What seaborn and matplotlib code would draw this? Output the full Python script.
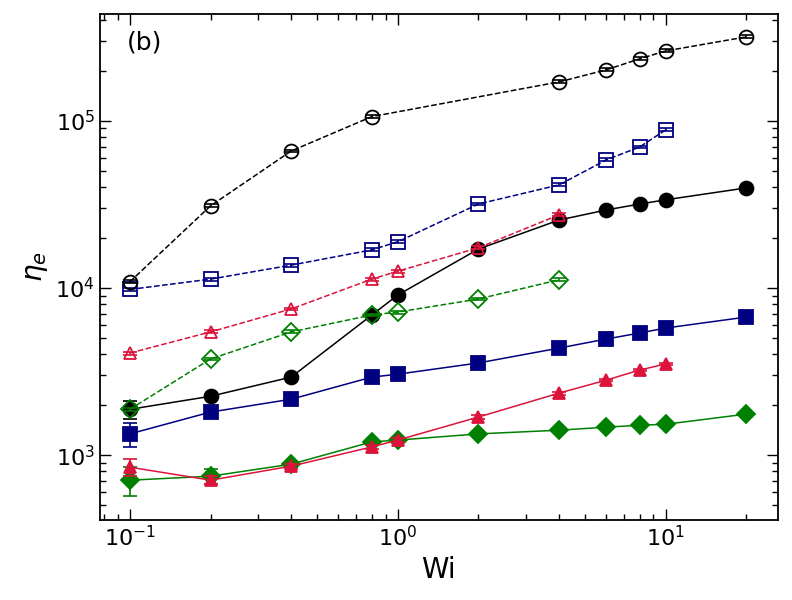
import matplotlib
matplotlib.use('Agg')
import matplotlib.pyplot as plt
import numpy as np
import pandas as pd
import seaborn as sns

sns.set_style('ticks')
plt.rcParams['font.family'] = ['DejaVu Sans']
plt.rcParams['mathtext.fontset'] = 'dejavusans'
plt.rcParams['text.color'] = 'black'
plt.rcParams['axes.labelcolor'] = 'black'
plt.rcParams['xtick.color'] = 'black'
plt.rcParams['ytick.color'] = 'black'
plt.rcParams['axes.edgecolor'] = 'black'

# datos
wi_full = [0.1, 0.2, 0.4, 0.8, 1, 2, 4, 6, 8, 10, 20]
wi_open_circ = [0.1, 0.2, 0.4, 0.8, 4, 6, 8, 10, 20]
wi_open_sq = [0.1, 0.2, 0.4, 0.8, 1, 2, 4, 6, 8, 10]
wi_short = [0.1, 0.2, 0.4, 0.8, 1, 2, 4]
wi_tri = [0.1, 0.2, 0.4, 0.8, 1, 2, 4, 6, 8, 10]

open_circ = [1.09e4, 3.1e4, 6.6e4, 1.06e5, 1.71e5, 2.02e5, 2.35e5, 2.62e5, 3.18e5]
open_sq = [9.8e3, 1.13e4, 1.37e4, 1.69e4, 1.89e4, 3.18e4, 4.14e4, 5.84e4, 6.98e4, 8.83e4]
open_tri = [4.08e3, 5.46e3, 7.49e3, 1.13e4, 1.26e4, 1.74e4, 2.74e4]
open_dia = [1.88e3, 3.76e3, 5.46e3, 6.89e3, 7.18e3, 8.59e3, 1.12e4]

fill_circ = [1.88e3, 2.25e3, 2.93e3, 6.89e3, 9.08e3, 1.71e4, 2.55e4, 2.93e4, 3.18e4, 3.37e4, 3.97e4]
fill_sq = [1.34e3, 1.81e3, 2.16e3, 2.93e3, 3.05e3, 3.56e3, 4.37e3, 4.95e3, 5.38e3, 5.76e3, 6.70e3]
fill_tri = [847, 708, 859, 1120, 1230, 1690, 2350, 2810, 3230, 3510]
fill_dia = [708, 748, 883, 1200, 1230, 1340, 1410, 1470, 1510, 1530, 1760]

# barras de error (solo las visibles son grandes)
err_fill_circ = [230, 60, 60, 150, 150, 300, 400, 400, 400, 400, 500]
err_fill_sq = [220, 50, 50, 60, 60, 70, 80, 90, 90, 100, 110]
err_fill_tri = [100, 40, 30, 30, 30, 40, 50, 50, 60, 60]
err_fill_dia = [140, 76, 30, 30, 30, 30, 30, 30, 30, 30, 30]

series = [
    # (x, y, err, marker, color, linestyle, filled)
    (wi_full, fill_dia, err_fill_dia, 'D', 'green', '-', True),
    (wi_tri, fill_tri, err_fill_tri, '^', 'crimson', '-', True),
    (wi_full, fill_sq, err_fill_sq, 's', 'navy', '-', True),
    (wi_full, fill_circ, err_fill_circ, 'o', 'black', '-', True),
    (wi_short, open_dia, None, 'D', 'green', '--', False),
    (wi_short, open_tri, None, '^', 'crimson', '--', False),
    (wi_open_sq, open_sq, None, 's', 'navy', '--', False),
    (wi_open_circ, open_circ, None, 'o', 'black', '--', False),
]

fig = plt.figure(figsize=(7.92, 6), dpi=100)
ax = fig.add_axes([0.126, 0.133, 0.856, 0.844])
ax.set_xscale('log')
ax.set_yscale('log')

for x, y, err, mk, col, ls, filled in series:
    df = pd.DataFrame({'Wi': x, 'eta': y})
    if err is None:
        err = [0.02 * v for v in y]
    ax.errorbar(x, y, yerr=err, fmt='none', ecolor=col, capsize=5, elinewidth=1.2, capthick=1.2)
    ms = 9 if mk in ('D', '^') else 10
    sns.lineplot(data=df, x='Wi', y='eta', ax=ax, color=col, linestyle=ls, linewidth=1.1,
                 marker=mk, markersize=ms,
                 markerfacecolor=col if filled else 'none',
                 markeredgecolor=col, markeredgewidth=1.3)

ax.set_xlim(0.0772, 26.2)
ax.set_ylim(408, 4.37e5)
ax.set_xlabel('Wi', fontsize=20)
ax.set_ylabel(r'$\eta_e$', fontsize=20)
ax.tick_params(which='both', direction='in', top=True, right=True, labelsize=16)
ax.tick_params(which='major', length=8, width=1)
ax.tick_params(which='minor', length=4, width=1)
for s in ax.spines.values():
    s.set_linewidth(1.3)
ax.text(0.04, 0.93, '(b)', transform=ax.transAxes, fontsize=18)

fig.savefig('out.png', dpi=100)
